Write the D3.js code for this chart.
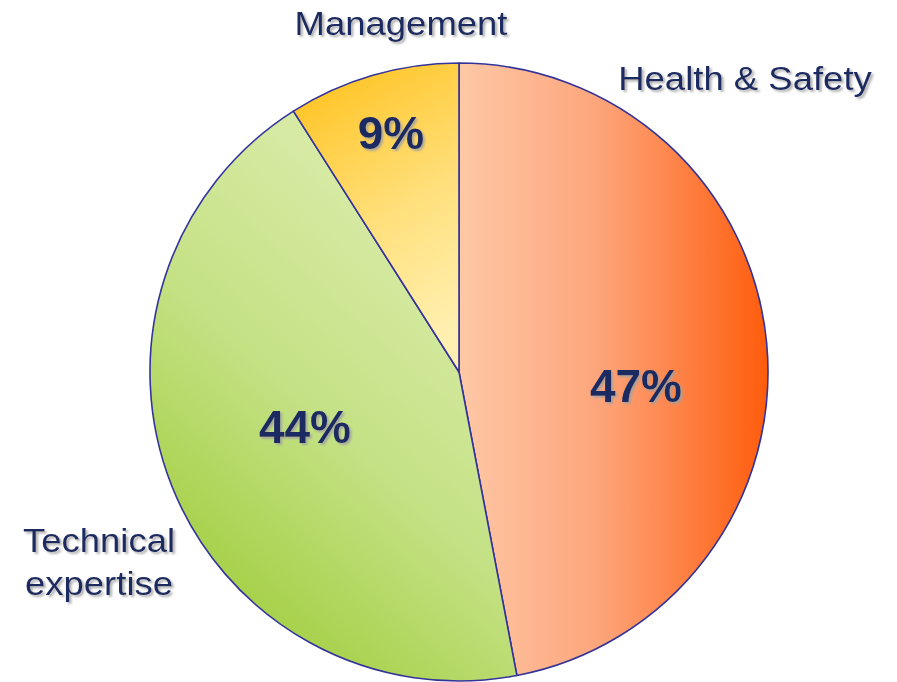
<!DOCTYPE html>
<html>
<head>
<meta charset="utf-8">
<script src="https://cdn.jsdelivr.net/npm/d3@7"></script>
<style>
  body { margin: 0; background: #fff; }
  svg { display: block; }
</style>
</head>
<body>
<svg id="chart" width="897" height="682"></svg>
<script>
// chart values
const categories = ['Health & Safety', 'Technical expertise', 'Management'];
const shares = [47, 44, 9];
const labelLines = [['Health & Safety'], ['Technical', 'expertise'], ['Management']];

const cx = 459, cy = 372, radius = 309;
const textColor = '#1d2b62';

let svg = d3.select('#chart');
let defs = svg.append('defs');

// gradients per slice (coords relative to pie centre)
function linGrad(id, x1, y1, x2, y2, stops) {
    let grad = defs.append('linearGradient')
        .attr('id', id)
        .attr('gradientUnits', 'userSpaceOnUse')
        .attr('x1', x1).attr('y1', y1)
        .attr('x2', x2).attr('y2', y2);
    stops.forEach(function(s) {
        grad.append('stop').attr('offset', s[0]).attr('stop-color', s[1]);
    });
}
linGrad('grad-0', 0, 0, radius, 0, [[0, '#fdc8a6'], [0.45, '#fda57b'], [1, '#ff5c0c']]);
linGrad('grad-1', 11, -72, -269, 238, [[0, '#d6eaa3'], [0.45, '#c4e184'], [1, '#a0cd3c']]);
linGrad('grad-2', -139, -282, 0, -42, [[0, '#ffc62a'], [0.5, '#ffdf7a'], [1, '#fff0b2']]);

let shadow = defs.append('filter').attr('id', 'shadow')
    .attr('x', '-10%').attr('y', '-20%').attr('width', '130%').attr('height', '150%');
shadow.append('feDropShadow')
    .attr('dx', 2).attr('dy', 2).attr('stdDeviation', 0.8)
    .attr('flood-color', '#a0a0a0').attr('flood-opacity', 0.85);

let pie = d3.pie().sort(null).value(d => d);
let arc = d3.arc().innerRadius(0).outerRadius(radius);
let arcs = pie(shares);

let g = svg.append('g').attr('transform', 'translate(' + cx + ',' + cy + ')');

g.selectAll('path.slice')
    .data(arcs)
    .enter().append('path')
    .attr('class', 'slice')
    .attr('d', arc)
    .attr('fill', (d, i) => 'url(#grad-' + i + ')')
    .style('stroke', '#33339a')
    .style('stroke-width', 1.6)
    .style('stroke-linejoin', 'round');

// percent labels
const pctPos = [[636, 402], [305, 443], [391, 149]];
svg.selectAll('text.pct')
    .data(arcs)
    .enter().append('text')
    .attr('class', 'pct')
    .attr('x', (d, i) => pctPos[i][0])
    .attr('y', (d, i) => pctPos[i][1])
    .attr('text-anchor', 'middle')
    .attr('filter', 'url(#shadow)')
    .style('font-family', 'Arial, "Liberation Sans", sans-serif')
    .style('font-weight', 'bold')
    .style('font-size', '46px')
    .style('fill', textColor)
    .text(d => d.data + '%');

// category labels
const catPos = [[745, 90], [99, 552], [401, 35]];
categories.forEach(function(c, i) {
    let t = svg.append('text')
        .attr('class', 'cat')
        .attr('text-anchor', 'middle')
        .attr('filter', 'url(#shadow)')
        .attr('transform', 'translate(' + catPos[i][0] + ',' + catPos[i][1] + ') scale(1.09,1)')
        .style('font-family', 'Arial, "Liberation Sans", sans-serif')
        .style('font-size', '33.5px')
        .style('fill', textColor);
    labelLines[i].forEach(function(line, k) {
        t.append('tspan').attr('x', 0).attr('y', k * 43).text(line);
    });
});
</script>
</body>
</html>
